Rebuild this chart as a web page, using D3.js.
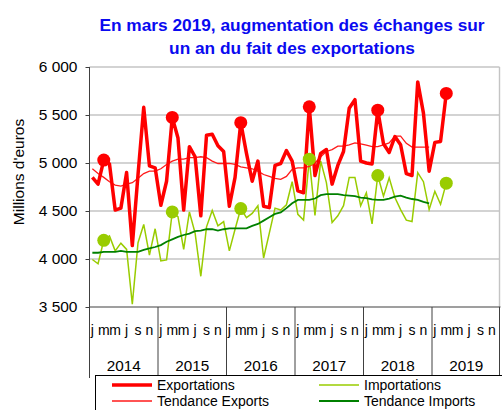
<!DOCTYPE html>
<html>
<head>
<meta charset="utf-8">
<script src="https://cdn.jsdelivr.net/npm/d3@7"></script>
<style>
  body { margin: 0; background: #fff; }
  svg { display: block; font-family: "Liberation Sans", Arial, sans-serif; }
</style>
</head>
<body>
<div id="chart"></div>
<script>
const years = ["2014", "2015", "2016", "2017", "2018", "2019"];
const monthLetters = ["j", "", "m", "", "m", "", "j", "", "s", "", "n", ""];
const yTicks = [3500, 4000, 4500, 5000, 5500, 6000];

// Jan 2014 -> Mar 2019, millions d'euros
const exportsData = [
  4850, 4780, 5030, 4990, 4510, 4530, 4900, 4140, 4880, 5580, 4970, 4950,
  4560, 4810, 5475, 5260, 4510, 5170, 5065, 4450, 5290, 5300, 5180, 5120,
  4550, 4850, 5420, 5100, 4810, 5020, 4550, 4535, 4975, 4995, 5130, 5020,
  4710, 4690, 5585, 4870, 5100, 5140, 4780, 4975, 5120, 5570, 5660, 5020,
  5000, 4990, 5550, 5200, 5110, 5275, 5190, 4890, 4870, 5845, 5520, 4915,
  5215, 5225, 5725
];
const importsData = [
  3995, 3950, 4195, 4240, 4085, 4165, 4100, 3530, 4170, 4360, 4040, 4315,
  3980, 3990, 4490, 4440, 4100, 4490, 4270, 3820, 4335, 4505, 4345, 4390,
  4085, 4310, 4525, 4430, 4475, 4555, 4010, 4270, 4530, 4510, 4565, 4805,
  4465, 4405, 5040, 4455, 5020, 4795, 4380, 4450, 4555, 4850, 4850, 4555,
  4690, 4365, 4870, 4655, 4845, 4640, 4515, 4405, 4390, 4900, 4805, 4515,
  4705, 4570, 4790
];
// Jan 2014 -> Dec 2018
const trendExports = [
  4940, 4890, 4850, 4805, 4770, 4760, 4780, 4795, 4840, 4890, 4915, 4915,
  4940, 4985, 5020, 5040, 5040, 5055, 5055, 5065, 5055, 5020, 4995, 4995,
  4995, 4985, 4960, 4950, 4940, 4915, 4880, 4860, 4840, 4830, 4860, 4935,
  4950, 4950, 4965, 5000, 5065, 5120, 5140, 5175, 5175, 5190, 5210, 5200,
  5185, 5170, 5170, 5190, 5210, 5280, 5280, 5205, 5165, 5165, 5165, 5165
];
const trendImports = [
  4065, 4065, 4075, 4075, 4075, 4085, 4075, 4075, 4075, 4095, 4110, 4125,
  4145, 4180, 4205, 4230, 4250, 4265, 4290, 4295, 4310, 4310, 4295, 4310,
  4320, 4320, 4320, 4320, 4345, 4365, 4400, 4435, 4470, 4485, 4530, 4580,
  4615, 4615, 4615, 4630, 4665, 4675, 4675, 4675, 4665, 4660, 4655, 4640,
  4635, 4620, 4615, 4615, 4630, 4650, 4660, 4640, 4625, 4615, 4595, 4580
];

const W = 502, H = 410;
const plot = { left: 89.5, right: 500.5, top: 67, bottom: 307 };

const months = [];
years.forEach(y => monthLetters.forEach((m, k) => months.push(y + "-" + k)));

const x = d3.scaleBand().domain(months).range([plot.left, plot.right]);
const xYear = d3.scaleBand().domain(years).range([plot.left, plot.right]);
const y = d3.scaleLinear().domain([3500, 6000]).range([plot.bottom, plot.top]);
const cx = i => x(months[i]) + x.bandwidth() / 2;

const svg = d3.select("#chart").append("svg")
  .attr("width", W)
  .attr("height", H);

// title
svg.append("text")
  .attr("text-anchor", "middle")
  .attr("fill", "#0a0af0")
  .style("font-size", "17.3px")
  .style("font-weight", "bold")
  .selectAll("tspan")
  .data(["En mars 2019, augmentation des échanges sur", "un an du fait des exportations"])
  .join("tspan")
    .attr("x", 292)
    .attr("y", (d, i) => 31 + i * 23)
    .text(d => d);

// gridlines
svg.append("g")
  .selectAll("line")
  .data(yTicks.filter(v => v > 3500))
  .join("line")
    .attr("x1", plot.left)
    .attr("x2", plot.right - 1)
    .attr("y1", d => y(d))
    .attr("y2", d => y(d))
    .attr("stroke", "#c4c4c4")
    .attr("stroke-width", 1.4);

// right border of plot area
svg.append("line")
  .attr("x1", plot.right - 1).attr("x2", plot.right - 1)
  .attr("y1", plot.top).attr("y2", plot.bottom)
  .attr("stroke", "#c4c4c4")
  .attr("stroke-width", 1.4);

// y axis
const yAxis = svg.append("g")
  .attr("transform", `translate(${plot.left},0)`)
  .call(d3.axisLeft(y).tickValues(yTicks).tickSize(4).tickPadding(8)
    .tickFormat(d => d3.format(",")(d).replace(",", " ")));
yAxis.select(".domain").remove();
yAxis.selectAll("line").attr("stroke", "#404040");
yAxis.selectAll("text").style("font-size", "15.5px").attr("fill", "#000").style("font-family", "inherit");

svg.append("line")
  .attr("x1", plot.left).attr("x2", plot.left)
  .attr("y1", plot.top).attr("y2", 378)
  .attr("stroke", "#404040");

// x axis line
svg.append("line")
  .attr("x1", plot.left).attr("x2", plot.right)
  .attr("y1", plot.bottom).attr("y2", plot.bottom)
  .attr("stroke", "#404040")
  .attr("stroke-width", 1.2);

// year dividers
svg.append("g")
  .selectAll("line")
  .data(years.slice(1).concat(["end"]))
  .join("line")
    .attr("x1", d => d === "end" ? plot.right - 1 : xYear(d))
    .attr("x2", d => d === "end" ? plot.right - 1 : xYear(d))
    .attr("y1", plot.bottom)
    .attr("y2", 376)
    .attr("stroke", "#404040");

// month letters
svg.append("g")
  .selectAll("text")
  .data(months.map((m, i) => ({ i, t: monthLetters[i % 12] })).filter(d => d.t))
  .join("text")
    .attr("x", d => cx(d.i))
    .attr("y", 335)
    .attr("text-anchor", "middle")
    .style("font-size", "14px")
    .text(d => d.t);

// year labels
svg.append("g")
  .selectAll("text")
  .data(years)
  .join("text")
    .attr("x", d => xYear(d) + xYear.bandwidth() / 2)
    .attr("y", 370.5)
    .attr("text-anchor", "middle")
    .style("font-size", "15.3px")
    .text(d => d);

// y title
svg.append("text")
  .attr("transform", "translate(24,172) rotate(-90)")
  .attr("text-anchor", "middle")
  .style("font-size", "15.5px")
  .text("Millions d'euros");

const line = d3.line()
  .x((d, i) => cx(i))
  .y(d => y(d));

svg.append("path")
  .datum(importsData)
  .attr("fill", "none")
  .attr("stroke", "#99cc00")
  .attr("stroke-width", 1.5)
  .attr("d", line);

svg.append("path")
  .datum(trendImports)
  .attr("fill", "none")
  .attr("stroke", "#008000")
  .attr("stroke-width", 1.8)
  .attr("d", line);

svg.append("path")
  .datum(trendExports)
  .attr("fill", "none")
  .attr("stroke", "#ff1a1a")
  .attr("stroke-width", 1.3)
  .attr("d", line);

svg.append("path")
  .datum(exportsData)
  .attr("fill", "none")
  .attr("stroke", "#ff0000")
  .attr("stroke-width", 3.5)
  .attr("stroke-linejoin", "round")
  .attr("d", line);

// March markers
const marchIdx = d3.range(exportsData.length).filter(i => i % 12 === 2);
svg.append("g")
  .selectAll("circle")
  .data(marchIdx)
  .join("circle")
    .attr("cx", i => cx(i))
    .attr("cy", i => y(importsData[i]))
    .attr("r", 6.5)
    .attr("fill", "#99cc00");
svg.append("g")
  .selectAll("circle")
  .data(marchIdx)
  .join("circle")
    .attr("cx", i => cx(i))
    .attr("cy", i => y(exportsData[i]))
    .attr("r", 6.5)
    .attr("fill", "#ff0000");

// legend
const legend = svg.append("g");
legend.append("rect")
  .attr("x", 95.5).attr("y", 375.5)
  .attr("width", 420).attr("height", 50)
  .attr("fill", "#fff")
  .attr("stroke", "#000");

const legendItems = [
  { label: "Exportations", color: "#ff0000", w: 3.5, x: 112, y: 385 },
  { label: "Tendance Exports", color: "#ff1a1a", w: 1.3, x: 112, y: 401 },
  { label: "Importations", color: "#99cc00", w: 1.5, x: 319, y: 385 },
  { label: "Tendance Imports", color: "#008000", w: 1.8, x: 319, y: 401 }
];
legendItems.forEach(d => {
  legend.append("line")
    .attr("x1", d.x).attr("x2", d.x + 40)
    .attr("y1", d.y).attr("y2", d.y)
    .attr("stroke", d.color)
    .attr("stroke-width", d.w);
  legend.append("text")
    .attr("x", d.x + 45)
    .attr("y", d.y + 5)
    .style("font-size", "14px")
    .text(d.label);
});
</script>
</body>
</html>
